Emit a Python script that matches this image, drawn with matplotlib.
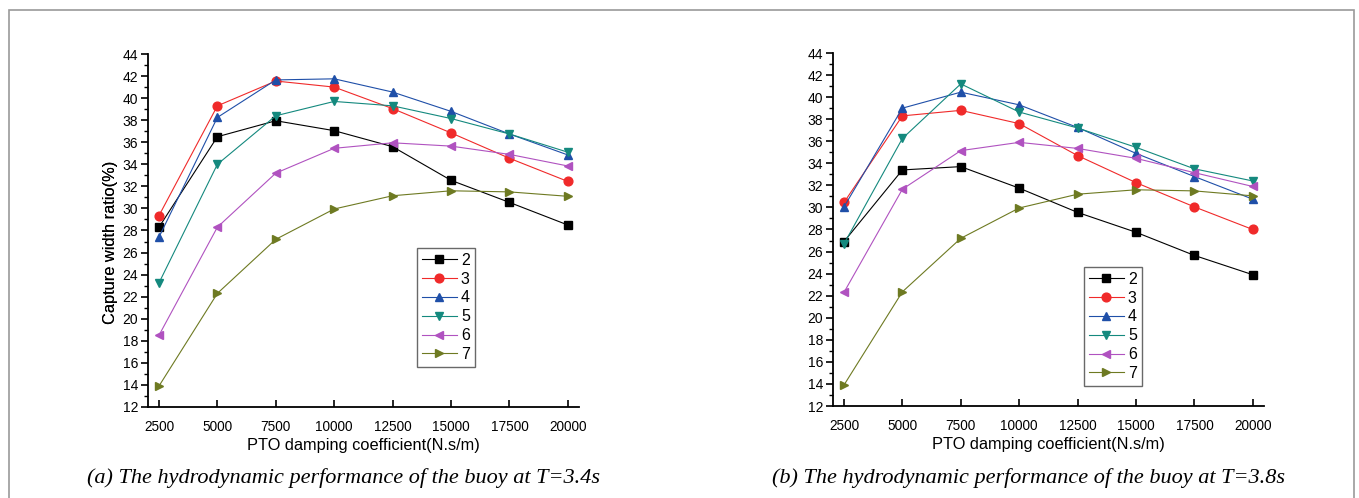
"""Capture width ratio vs PTO damping coefficient for two wave periods (two-panel figure)."""
import matplotlib

matplotlib.use("Agg")

import matplotlib.pyplot as plt
from matplotlib.patches import Rectangle
from matplotlib.ticker import MultipleLocator

damping = [2500, 5000, 7500, 10000, 12500, 15000, 17500, 20000]
series_labels = ["2", "3", "4", "5", "6", "7"]

# panel (a), T=3.4s
ratio_a_2 = [28.3, 36.5, 37.95, 37.05, 35.6, 32.55, 30.55, 28.5]
ratio_a_3 = [29.35, 39.3, 41.55, 41.0, 39.05, 36.85, 34.55, 32.45]
ratio_a_4 = [27.4, 38.25, 41.65, 41.75, 40.55, 38.8, 36.75, 34.85]
ratio_a_5 = [23.25, 34.0, 38.4, 39.7, 39.3, 38.15, 36.75, 35.1]
ratio_a_6 = [18.5, 28.3, 33.2, 35.45, 35.95, 35.65, 34.9, 33.85]
ratio_a_7 = [13.9, 22.3, 27.2, 29.95, 31.15, 31.6, 31.5, 31.1]

# panel (b), T=3.8s
ratio_b_2 = [26.9, 33.4, 33.7, 31.75, 29.55, 27.75, 25.65, 23.9]
ratio_b_3 = [30.45, 38.3, 38.8, 37.6, 34.7, 32.25, 30.05, 28.0]
ratio_b_4 = [30.05, 39.0, 40.45, 39.3, 37.25, 34.9, 32.8, 30.75]
ratio_b_5 = [26.7, 36.25, 41.2, 38.65, 37.2, 35.45, 33.5, 32.4]
ratio_b_6 = [22.3, 31.65, 35.15, 35.9, 35.35, 34.45, 33.15, 31.9]
ratio_b_7 = [13.9, 22.35, 27.2, 29.95, 31.2, 31.6, 31.5, 31.05]

styles = [("#000000", "s"), ("#f02a2a", "o"), ("#1f4fa8", "^"),
          ("#14897e", "v"), ("#b052c0", "<"), ("#6e7a22", ">")]

plt.rcParams["font.family"] = ["Liberation Sans", "DejaVu Sans"]

W, H = 1359, 498
fig = plt.figure(figsize=(W / 100, H / 100), dpi=100)
fig.patch.set_facecolor("white")
# page frame: left, top and right edges only (bottom runs off the image)
fig.patches.append(Rectangle((9 / W, -0.1), (1354 - 9) / W, 1.1 - 10 / H, transform=fig.transFigure,
                             fill=False, edgecolor="#9a9a9a", linewidth=1.2))


def panel(rect, data, legend_rect, caption):
    """rect / legend_rect are pixel boxes (left, top, right, bottom) on the page."""
    x0, y0, x1, y1 = rect
    ax = fig.add_axes([x0 / W, 1 - y1 / H, (x1 - x0) / W, (y1 - y0) / H])
    for vals, lab, (col, mk) in zip(data, series_labels, styles):
        ax.plot(damping, vals, color=col, marker=mk, markersize=6.3, linewidth=0.8,
                label=lab, clip_on=False)
    ax.set_xlim(2030, 20480)
    ax.set_ylim(12, 44)
    ax.set_xticks(damping)
    ax.yaxis.set_major_locator(MultipleLocator(2))
    ax.yaxis.set_minor_locator(MultipleLocator(1))
    ax.spines["top"].set_visible(False)
    ax.spines["right"].set_visible(False)
    for s in ("left", "bottom"):
        ax.spines[s].set_linewidth(1.3)
    ax.tick_params(axis="y", which="major", direction="out", length=5, width=1.2, labelsize=10, pad=2)
    ax.tick_params(axis="y", which="minor", direction="out", length=3, width=1.0)
    ax.tick_params(axis="x", direction="in", length=5, width=1.2, labelsize=9.8, pad=9.5)
    ax.set_ylabel("Capture width ratio(%)", fontsize=11.8)
    ax.yaxis.set_label_coords((118 - x0) / (x1 - x0), (y1 - 242) / (y1 - y0))
    ax.set_xlabel("PTO damping coefficient(N.s/m)", fontsize=11.8, labelpad=3)
    lx0, ly0, _lx1, _ly1 = legend_rect
    leg = ax.legend(loc="upper left", bbox_to_anchor=((lx0 - x0) / (x1 - x0), (y1 - ly0) / (y1 - y0)),
                    fontsize=11.5, frameon=True, fancybox=False, handlelength=2.2, handletextpad=0.25,
                    borderpad=0.3, labelspacing=0.24, borderaxespad=0)
    leg.get_frame().set_edgecolor("#444444")
    leg.get_frame().set_linewidth(1.0)
    fig.text(((x0 + x1) / 2 - 20) / W, 1 - 478 / H, caption, ha="center", va="center",
             fontsize=16, style="italic", family=["Liberation Serif", "DejaVu Serif"])
    return ax


panel((148, 54, 579, 407),
      [ratio_a_2, ratio_a_3, ratio_a_4, ratio_a_5, ratio_a_6, ratio_a_7],
      (417, 248, 472, 369),
      "(a) The hydrodynamic performance of the buoy at T=3.4s")
panel((833, 53, 1264, 406),
      [ratio_b_2, ratio_b_3, ratio_b_4, ratio_b_5, ratio_b_6, ratio_b_7],
      (1084, 267, 1139, 388),
      "(b) The hydrodynamic performance of the buoy at T=3.8s")

fig.savefig("out.png", dpi=100, facecolor="white")
